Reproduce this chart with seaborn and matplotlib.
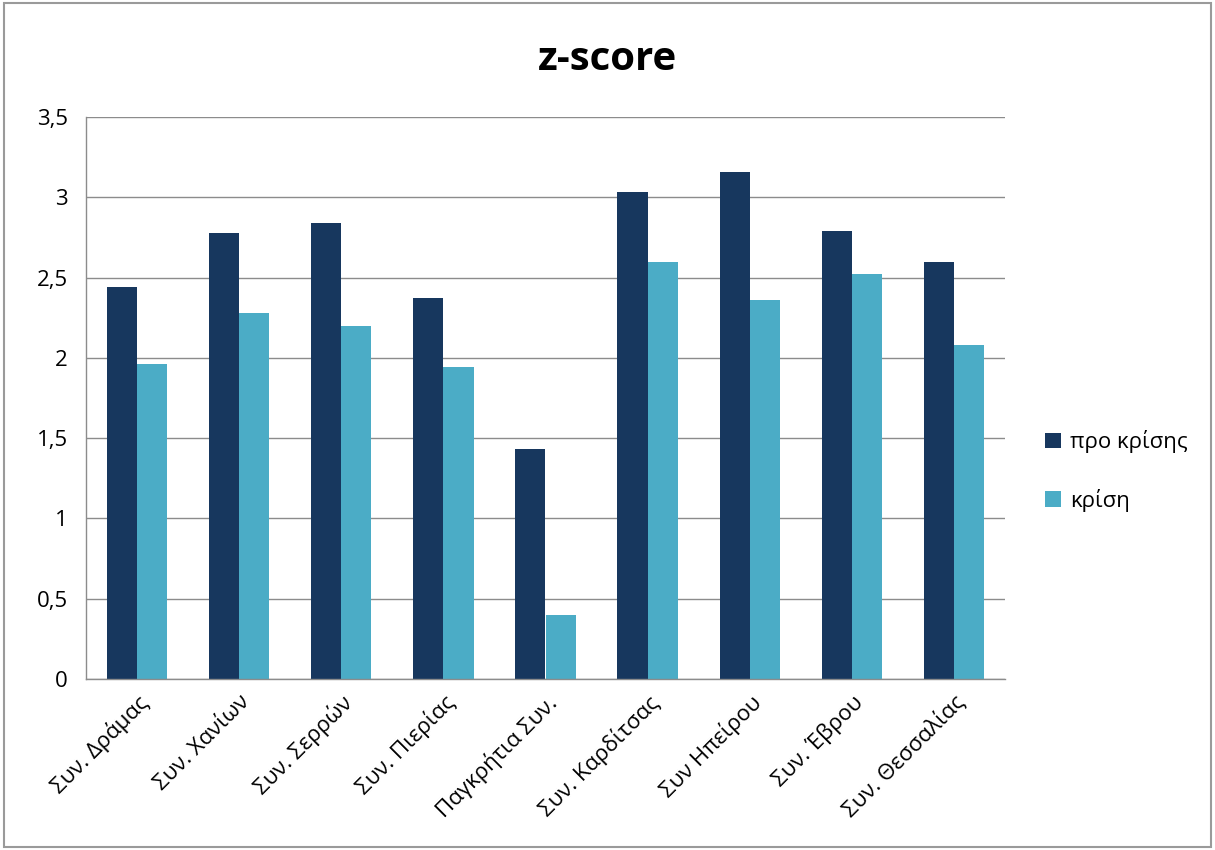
import pandas as pd
import matplotlib
matplotlib.use("Agg")
import matplotlib.pyplot as plt
import matplotlib.ticker as mticker
from matplotlib.patches import Rectangle
import seaborn as sns

# data
categories = [
    "Συν. Δράμας",
    "Συν. Χανίων",
    "Συν. Σερρών",
    "Συν. Πιερίας",
    "Παγκρήτια Συν.",
    "Συν. Καρδίτσας",
    "Συν Ηπείρου",
    "Συν. Έβρου",
    "Συν. Θεσσαλίας",
]
pre_crisis = [2.44, 2.78, 2.84, 2.37, 1.43, 3.03, 3.16, 2.79, 2.60]
crisis = [1.96, 2.28, 2.20, 1.94, 0.40, 2.60, 2.36, 2.52, 2.08]
series_names = ["προ κρίσης", "κρίση"]

df = pd.DataFrame(
    {
        "category": categories * 2,
        "value": pre_crisis + crisis,
        "series": [series_names[0]] * len(categories) + [series_names[1]] * len(categories),
    }
)

sns.set_style("white")
plt.rcParams["font.family"] = ["Open Sans", "DejaVu Sans"]
plt.rcParams["text.color"] = "black"
plt.rcParams["xtick.color"] = "black"
plt.rcParams["ytick.color"] = "black"

fig = plt.figure(figsize=(12.15, 8.5), dpi=100)
ax = fig.add_axes([86 / 1215, 1 - 679 / 850, (1005 - 86) / 1215, (679 - 117) / 850])

sns.barplot(
    ax=ax,
    data=df,
    x="category",
    y="value",
    hue="series",
    palette=["#17375E", "#4BACC6"],
    width=0.59,
    saturation=1,
    dodge=True,
    linewidth=0,
    legend=True,
)

ax.set_ylim(0, 3.5)
ax.set_xlim(-0.5, len(categories) - 0.5)
ax.yaxis.set_major_locator(mticker.MultipleLocator(0.5))
ax.yaxis.set_major_formatter(
    mticker.FuncFormatter(lambda v, p: ("%g" % v).replace(".", ","))
)
ax.grid(axis="y", color="#8c8c8c", linewidth=1)
ax.set_axisbelow(True)

for side in ["top", "right"]:
    ax.spines[side].set_visible(False)
for side in ["left", "bottom"]:
    ax.spines[side].set_color("#8c8c8c")
    ax.spines[side].set_linewidth(1)

# ticks between categories on x, outward ticks on y
ax.set_xticks(range(len(categories)))
ax.set_xticklabels(categories, rotation=45, ha="right", rotation_mode="anchor", fontsize=16)
ax.xaxis.set_minor_locator(mticker.FixedLocator([i - 0.5 for i in range(len(categories) + 1)]))
ax.tick_params(axis="x", which="major", length=0, pad=9)
ax.tick_params(axis="x", which="minor", length=7, color="#8c8c8c", width=1, direction="out")
ax.tick_params(axis="y", length=7, color="#8c8c8c", labelcolor="black", width=1,
               direction="out", labelsize=16, pad=6)
ax.set_xlabel("")
ax.set_ylabel("")

fig.text(0.5, 1 - 60 / 850, "z-score", ha="center", va="center", fontsize=29, fontweight="bold")

leg = ax.legend(
    loc="center left",
    bbox_to_anchor=(1.022, 0.37),
    frameon=False,
    fontsize=16,
    handlelength=0.7,
    handleheight=0.7,
    handletextpad=0.4,
    labelspacing=1.6,
)

# thin gray border around the whole chart
fig.patches.append(
    Rectangle((0.003, 0.003), 0.994, 0.994, transform=fig.transFigure,
              fill=False, edgecolor="#9a9a9a", linewidth=1.5)
)

fig.savefig("out.png", dpi=100, facecolor="white")
